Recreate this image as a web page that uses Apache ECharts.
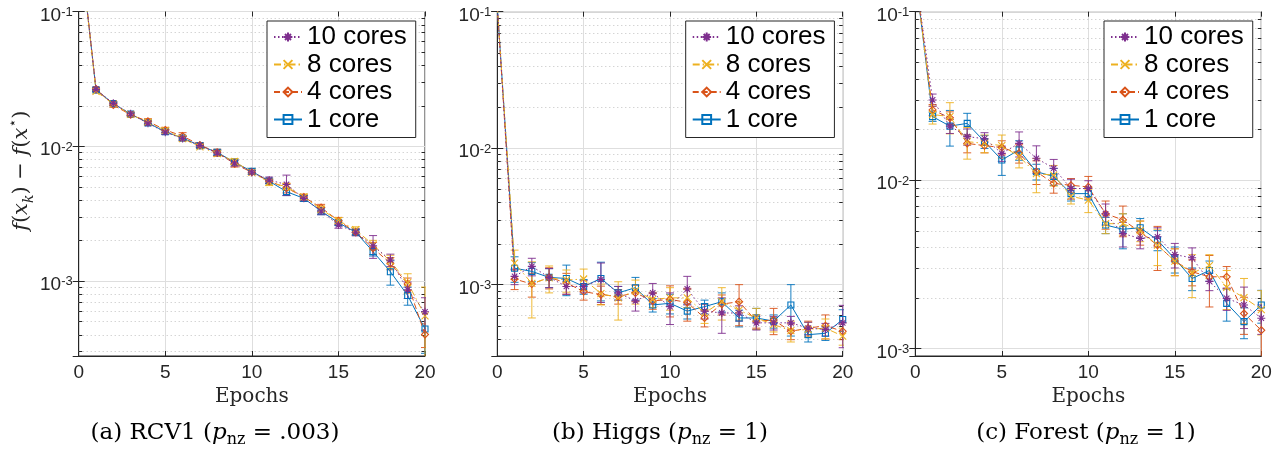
<!DOCTYPE html>
<html>
<head>
<meta charset="utf-8">
<script src="https://cdn.jsdelivr.net/npm/echarts@6/dist/echarts.min.js"></script>
<style>
html,body{margin:0;padding:0;background:#fff;}
#chart{width:1288px;height:453px;}
</style>
</head>
<body>
<div id="chart"></div>
<script>
// ---------------- data ----------------
const epochs = [0,1,2,3,4,5,6,7,8,9,10,11,12,13,14,15,16,17,18,19,20];
const seriesNames = ['1 core', '4 cores', '8 cores', '10 cores'];
const legendOrder = ['10 cores', '8 cores', '4 cores', '1 core'];
const xTicks = [0, 5, 10, 15, 20];
const minorGridValues = [2e-4,3e-4,4e-4,5e-4,6e-4,7e-4,8e-4,9e-4,
                         2e-3,3e-3,4e-3,5e-3,6e-3,7e-3,8e-3,9e-3,
                         2e-2,3e-2,4e-2,5e-2,6e-2,7e-2,8e-2,9e-2];

// (a) RCV1
const rcv1_1core  = [0.38,0.0262,0.0207,0.0173,0.0149,0.0128,0.0115,0.0101,0.0090,0.0076,0.0065,0.0055,0.0046,0.0041,0.0033,0.0027,0.0023,0.00165,0.00117,0.00078,0.00044];
const rcv1_1core_err  = [0,0.0007,0.0006,0.0004,0.0005,0.0005,0.0004,0.0003,0.0004,0.0003,0.0003,0.0002,0.0003,0.0002,0.0002,0.00012,0.0001,0.00012,0.00024,0.00012,0.00015];
const rcv1_4cores = [0.38,0.0266,0.0202,0.0171,0.0153,0.0132,0.0119,0.0102,0.0090,0.0074,0.0064,0.0055,0.0049,0.0042,0.0035,0.0028,0.0023,0.00175,0.00135,0.00095,0.00040];
const rcv1_4cores_err = [0,0.0008,0.0007,0.0006,0.0007,0.0006,0.0007,0.0004,0.0005,0.0004,0.0002,0.0002,0.0004,0.0002,0.0002,0.00016,0.00012,0.00018,0.00014,0.00010,0.00008];
const rcv1_8cores = [0.38,0.0255,0.0206,0.0172,0.0151,0.0131,0.0114,0.0099,0.0088,0.0077,0.0064,0.0054,0.0050,0.0042,0.0034,0.0028,0.0024,0.00185,0.00140,0.00097,0.00055];
const rcv1_8cores_err = [0,0.0006,0.0005,0.0005,0.0006,0.0005,0.0005,0.0003,0.0004,0.0004,0.0002,0.0003,0.0003,0.0002,0.0002,0.00015,0.00012,0.00015,0.00015,0.00016,0.00035];
const rcv1_10cores = [0.38,0.0264,0.0208,0.0174,0.0148,0.0127,0.0114,0.0101,0.0089,0.0075,0.0064,0.0056,0.0052,0.0041,0.0033,0.0026,0.0023,0.00182,0.00143,0.00086,0.00059];
const rcv1_10cores_err = [0,0.0008,0.0006,0.0005,0.0005,0.0005,0.0004,0.0003,0.0004,0.0004,0.0002,0.0003,0.0009,0.0002,0.0002,0.00014,0.00014,0.00035,0.00015,0.00012,0.00016];

// (b) Higgs
const higgs_1core  = [0.11,0.00132,0.00125,0.00113,0.00111,0.00097,0.00111,0.00087,0.00095,0.00071,0.00073,0.00064,0.00069,0.00075,0.00057,0.00057,0.00054,0.00071,0.00043,0.00044,0.000555];
const higgs_1core_err  = [0,0.00028,0.0002,0.00018,0.00028,0.00012,0.00035,0.0001,0.00018,0.00008,0.00012,0.00008,0.00008,0.00012,0.00008,0.0001,0.00006,0.00029,0.00005,0.00005,0.0001];
const higgs_4cores = [0.11,0.0011,0.00101,0.00113,0.00103,0.00089,0.000845,0.00082,0.00087,0.00076,0.00078,0.00074,0.00057,0.00072,0.00075,0.00054,0.00055,0.000455,0.00048,0.0005,0.000455];
const higgs_4cores_err = [0,0.00018,0.0002,0.0002,0.00018,0.00012,0.00013,0.0001,0.00012,0.0001,0.0002,0.0002,0.00008,0.00012,0.00025,0.00006,0.00012,0.00006,0.00006,0.0001,0.00006];
const higgs_8cores = [0.11,0.00144,0.00102,0.00112,0.00108,0.0011,0.00086,0.0008,0.0009,0.00078,0.0008,0.0008,0.00062,0.00075,0.00065,0.00057,0.00051,0.00046,0.00047,0.00048,0.00042];
const higgs_8cores_err = [0,0.00035,0.00045,0.00025,0.0002,0.0002,0.00015,0.00025,0.00018,0.0001,0.00015,0.00012,0.0001,0.0002,0.0001,0.0001,0.00006,0.00008,0.00006,0.00008,0.00006];
const higgs_10cores = [0.11,0.00115,0.00136,0.00113,0.00097,0.00097,0.00109,0.00087,0.00076,0.00087,0.00069,0.00093,0.00064,0.00062,0.00062,0.000525,0.000525,0.000525,0.00048,0.00047,0.000525];
const higgs_10cores_err = [0,0.00015,0.0002,0.00018,0.00012,0.0001,0.00035,0.0001,0.00012,0.00015,0.00018,0.00022,0.00008,0.00018,0.00008,0.00006,0.00006,0.00006,0.00005,0.00005,0.00018];

// (c) Forest
const forest_1core  = [0.167,0.0238,0.0209,0.0217,0.0169,0.01315,0.0151,0.0112,0.0105,0.0083,0.0083,0.0054,0.0051,0.0052,0.0044,0.0034,0.0026,0.0029,0.00185,0.00144,0.00181];
const forest_1core_err  = [0,0.0015,0.005,0.0032,0.0015,0.0025,0.002,0.0012,0.0012,0.0008,0.0007,0.0006,0.0012,0.0007,0.0006,0.0006,0.0004,0.0004,0.0004,0.0003,0.0004];
const forest_4cores = [0.167,0.0261,0.0234,0.0165,0.016,0.0156,0.0144,0.0112,0.00955,0.0093,0.0091,0.0063,0.0058,0.0049,0.0041,0.0033,0.00285,0.00266,0.00266,0.00161,0.00128];
const forest_4cores_err = [0,0.002,0.002,0.002,0.0015,0.0015,0.0018,0.0018,0.0012,0.0009,0.0014,0.0012,0.0012,0.0008,0.0012,0.0006,0.0005,0.0009,0.0004,0.0004,0.0004];
const forest_8cores = [0.167,0.0245,0.0238,0.0169,0.0165,0.016,0.0138,0.0109,0.0107,0.008,0.0076,0.0055,0.0055,0.005,0.0041,0.0033,0.0028,0.0031,0.0023,0.002,0.0017];
const forest_8cores_err = [0,0.003,0.005,0.0036,0.002,0.0025,0.002,0.0025,0.0015,0.0008,0.0012,0.0007,0.0008,0.0007,0.001,0.0006,0.0008,0.0005,0.0006,0.0006,0.0005];
const forest_10cores = [0.167,0.0299,0.0209,0.0181,0.0176,0.0144,0.0165,0.01346,0.01175,0.0089,0.0089,0.0063,0.0048,0.0045,0.0046,0.0036,0.00345,0.0025,0.00198,0.00181,0.00151];
const forest_10cores_err = [0,0.0025,0.002,0.002,0.0015,0.0015,0.0028,0.0025,0.0015,0.0012,0.001,0.0009,0.0008,0.0006,0.0006,0.0006,0.0005,0.0003,0.0003,0.0005,0.0003];

const captions = [
  ['(a) RCV1 (', '.003)'],
  ['(b) Higgs (', '1)'],
  ['(c) Forest (', '1)']
];

// ---------------- layout / style ----------------
const panels = [
  {vals:[rcv1_1core, rcv1_4cores, rcv1_8cores, rcv1_10cores], errs:[rcv1_1core_err, rcv1_4cores_err, rcv1_8cores_err, rcv1_10cores_err]},
  {vals:[higgs_1core, higgs_4cores, higgs_8cores, higgs_10cores], errs:[higgs_1core_err, higgs_4cores_err, higgs_8cores_err, higgs_10cores_err]},
  {vals:[forest_1core, forest_4cores, forest_8cores, forest_10cores], errs:[forest_1core_err, forest_4cores_err, forest_8cores_err, forest_10cores_err]}
];
const grids = [
  {left:78.7, top:11.5, width:346.3, height:344.5},
  {left:497.3, top:11.7, width:345.4, height:344.3},
  {left:915.3, top:11.7, width:346, height:344.3}
];
const yMins = [2.77e-4, 3.0e-4, 9.0e-4];
const yMax = 0.1;
const legendLeft = [267, 685.7, 1104];
const captionX = [215, 660, 1086];

const colors = ['#0072BD', '#D95319', '#EDB120', '#7E2F8E'];
const lineTypes = ['solid', [6,3], [7,3,1.5,3], [1.5,2.5]];
const symbols = [
  'rect',
  'diamond',
  'path://M0,0L10,10M10,0L0,10',
  'path://M5,0L5,10M0,5L10,5M1.6,1.6L8.4,8.4M8.4,1.6L1.6,8.4'
];
const symbolSizes = [6, 7, 7, 8];
const AX = '#262626';
const SANS = 'Liberation Sans, Arial, Helvetica, sans-serif';
const SERIF = 'DejaVu Serif, serif';

function yLabel(v) {
  const l = Math.log10(v);
  const e = Math.round(l);
  if (Math.abs(l - e) > 1e-6) return '';
  return '{b|10}{s|' + e + '}';
}

const option = {
  animation: false,
  backgroundColor: '#fff',
  grid: [], xAxis: [], yAxis: [], series: [], legend: [], graphic: []
};

panels.forEach((p, i) => {
  option.grid.push(Object.assign({show:true, borderColor:AX, borderWidth:1, backgroundColor:'#fff', containLabel:false}, grids[i]));
});
// bottom x axes
panels.forEach((p, i) => {
  option.xAxis.push({
    type:'value', gridIndex:i, min:0, max:20, interval:5,
    axisLine:{show:true, lineStyle:{color:AX, width:1}},
    axisTick:{show:true, inside:true, length:5, lineStyle:{color:AX}},
    axisLabel:{fontSize:19, color:AX, fontFamily:SANS, margin:7,
      formatter: v => xTicks.indexOf(v) >= 0 ? String(v) : ''},
    splitLine:{show:true, lineStyle:{color:'#dedede', width:1}},
    name:'Epochs', nameLocation:'middle', nameGap:23,
    nameTextStyle:{fontFamily:SERIF, fontSize:20, color:AX}
  });
});
// top x axes (mirror ticks)
panels.forEach((p, i) => {
  option.xAxis.push({
    type:'value', gridIndex:i, min:0, max:20, interval:5, position:'top',
    axisLine:{show:false}, axisTick:{show:true, inside:true, length:5, lineStyle:{color:AX}},
    axisLabel:{show:false}, splitLine:{show:false}
  });
});
// left y axes
panels.forEach((p, i) => {
  const ax = {
    type:'log', logBase:10, gridIndex:i, min:yMins[i], max:yMax,
    axisLine:{show:true, lineStyle:{color:AX, width:1}},
    axisTick:{show:true, inside:true, length:6, lineStyle:{color:AX}},
    axisLabel:{formatter:yLabel, margin:6, padding:[8,0,0,0],
      rich:{
        b:{fontSize:19, fontFamily:SANS, color:AX, lineHeight:19, padding:[4,0,0,0], verticalAlign:'bottom'},
        s:{fontSize:13, fontFamily:SANS, color:AX, lineHeight:13, verticalAlign:'top'}
      }},
    splitLine:{show:true, lineStyle:{color:'#dedede', width:1}}
  };
  if (i === 0) {
    ax.name = '{i|f}{n|(}{i|x}{sub|k}{n|) − }{i|f}{n|(}{i|x}{sup|⋆}{n|)}';
    ax.nameLocation = 'middle';
    ax.nameRotate = 90;
    ax.nameGap = 42;
    ax.nameTextStyle = {
      padding:[0,0,0,26],
      rich:{
        i:{fontFamily:SERIF, fontStyle:'italic', fontSize:21, color:AX, lineHeight:30},
        n:{fontFamily:SERIF, fontSize:21, color:AX, lineHeight:30},
        sub:{fontFamily:SERIF, fontStyle:'italic', fontSize:14, color:AX, lineHeight:14, verticalAlign:'bottom'},
        sup:{fontFamily:'DejaVu Sans', fontSize:14, color:AX, lineHeight:14, verticalAlign:'top'}
      }
    };
  }
  option.yAxis.push(ax);
});
// right y axes (mirror ticks)
panels.forEach((p, i) => {
  option.yAxis.push({
    type:'log', logBase:10, gridIndex:i, min:yMins[i], max:yMax, position:'right',
    axisLine:{show:false}, axisTick:{show:true, inside:true, length:6, lineStyle:{color:AX}},
    axisLabel:{show:false}, splitLine:{show:false}
  });
});

// minor grid lines + minor ticks
panels.forEach((p, i) => {
  option.series.push({
    type:'custom', name:'minor-grid-' + i, xAxisIndex:i, yAxisIndex:i, silent:true, z:1, clip:true,
    data: minorGridValues.filter(v => v > yMins[i] && v < yMax).map(v => [0, v]),
    encode:{x:0, y:1},
    renderItem: (params, api) => {
      const cs = params.coordSys;
      const y = Math.round(api.coord([0, api.value(1)])[1]) + 0.5;
      return {type:'group', children:[
        {type:'line', shape:{x1:cs.x, y1:y, x2:cs.x + cs.width, y2:y}, style:{stroke:'#c2c2c2', lineWidth:1, lineDash:[1,3]}},
        {type:'line', shape:{x1:cs.x, y1:y, x2:cs.x + 3.5, y2:y}, style:{stroke:AX, lineWidth:1}},
        {type:'line', shape:{x1:cs.x + cs.width - 3.5, y1:y, x2:cs.x + cs.width, y2:y}, style:{stroke:AX, lineWidth:1}}
      ]};
    }
  });
});

// data series: error bars + lines
panels.forEach((p, i) => {
  seriesNames.forEach((name, s) => {
    const vals = p.vals[s], errs = p.errs[s], c = colors[s];
    option.series.push({
      type:'custom', name:'err-' + name + '-' + i, xAxisIndex:i, yAxisIndex:i, silent:true, clip:true, z:3,
      data: epochs.map((x, k) => [x, vals[k] - errs[k], vals[k] + errs[k]]).filter((d, k) => errs[k] > 0),
      encode:{x:0, y:[1,2]},
      renderItem: (params, api) => {
        const x = api.value(0);
        const a = api.coord([x, api.value(1)]);
        const b = api.coord([x, api.value(2)]);
        const hw = 4;
        const st = {stroke:c, lineWidth:1, opacity:0.9};
        return {type:'group', children:[
          {type:'line', shape:{x1:a[0], y1:a[1], x2:b[0], y2:b[1]}, style:st},
          {type:'line', shape:{x1:a[0]-hw, y1:a[1], x2:a[0]+hw, y2:a[1]}, style:st},
          {type:'line', shape:{x1:b[0]-hw, y1:b[1], x2:b[0]+hw, y2:b[1]}, style:st}
        ]};
      }
    });
    option.series.push({
      type:'line', name:name, xAxisIndex:i, yAxisIndex:i, z:3, clip:true,
      data: epochs.map((x, k) => [x, vals[k]]),
      symbol: symbols[s], symbolSize: symbolSizes[s], showSymbol:true,
      lineStyle:{color:c, width:1, type:lineTypes[s]},
      itemStyle:{color:'rgba(255,255,255,0)', borderColor:c, borderWidth:1.1},
      emphasis:{disabled:true}
    });
  });
});

// legends
panels.forEach((p, i) => {
  option.legend.push({
    data: legendOrder, orient:'vertical', left:legendLeft[i], top:21,
    backgroundColor:'#fff', borderColor:AX, borderWidth:1, borderRadius:0,
    padding:[3, 9, 5, 6], itemGap:1.5, itemWidth:28, itemHeight:11,
    selectedMode:false,
    textStyle:{fontSize:26, fontFamily:SANS, color:'#000', lineHeight:24}
  });
});

// captions
captions.forEach((cap, i) => {
  option.graphic.push({
    type:'text', x:captionX[i], y:433, silent:true,
    style:{
      text:'{n|' + cap[0] + '}{i|p}{sub|nz}{n| = ' + cap[1] + '}',
      align:'center', verticalAlign:'middle', textAlign:'center', textVerticalAlign:'middle',
      rich:{
        n:{fontFamily:SERIF, fontSize:23, fill:'#000', color:'#000', lineHeight:30},
        i:{fontFamily:SERIF, fontStyle:'italic', fontSize:23, fill:'#000', color:'#000', lineHeight:30},
        sub:{fontFamily:SERIF, fontSize:16, fill:'#000', color:'#000', lineHeight:16, verticalAlign:'bottom'}
      }
    }
  });
});

const chart = echarts.init(document.getElementById('chart'), null, {renderer:'canvas'});
chart.setOption(option);
</script>
</body>
</html>
